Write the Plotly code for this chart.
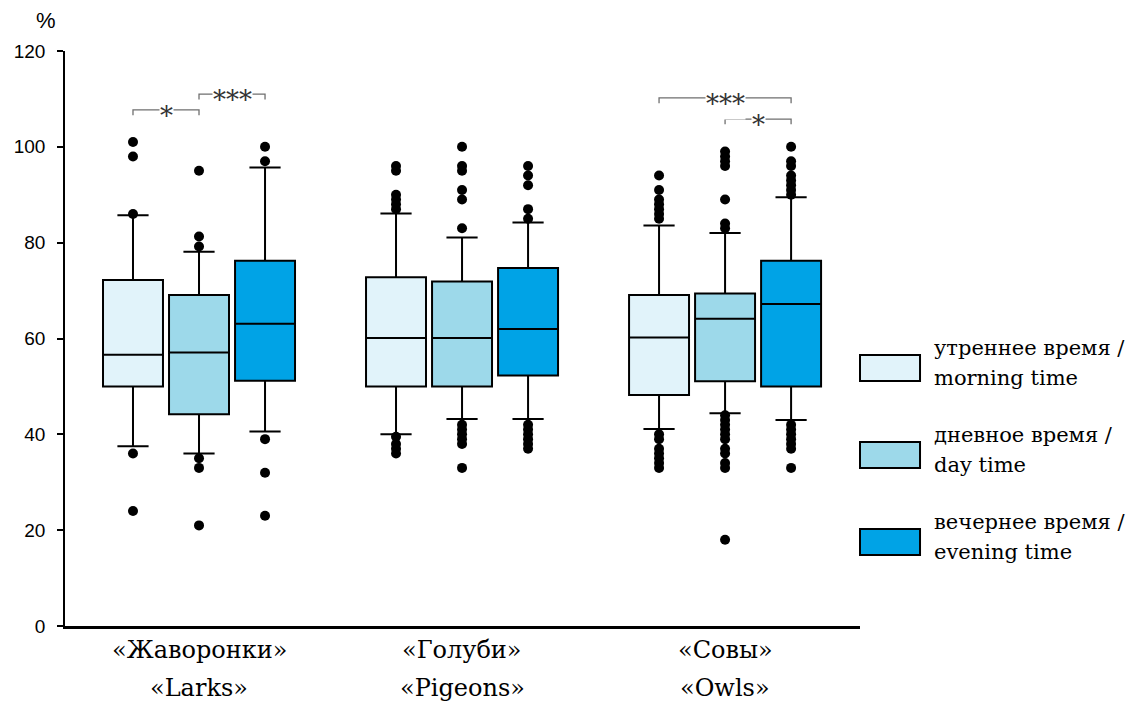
import plotly.graph_objects as go

# Chronotype groups (x-axis categories, two-line labels)
groups_ru = ["«Жаворонки»", "«Голуби»", "«Совы»"]
groups_en = ["«Larks»", "«Pigeons»", "«Owls»"]

# Time-of-day series
series_ru = ["утреннее время /", "дневное время /", "вечернее время /"]
series_en = ["morning time", "day time", "evening time"]
series_colors = ["#E1F3FA", "#9DD9EA", "#00A3E6"]

# Box statistics per series, one value per group (Larks, Pigeons, Owls)
q1 = [
    [50.0, 50.0, 48.2],
    [44.2, 50.0, 51.1],
    [51.2, 52.3, 50.0],
]
median = [
    [56.6, 60.1, 60.2],
    [57.1, 60.1, 64.1],
    [63.1, 62.0, 67.2],
]
q3 = [
    [72.2, 72.8, 69.1],
    [69.1, 71.9, 69.4],
    [76.2, 74.7, 76.2],
]
lower_fence = [
    [37.5, 40.0, 41.1],
    [36.0, 43.2, 44.4],
    [40.6, 43.2, 43.0],
]
upper_fence = [
    [85.7, 86.1, 83.6],
    [78.1, 81.1, 82.0],
    [95.7, 84.2, 89.5],
]

# Outliers per series, per group
outliers = [
    [
        [101, 98, 86, 36, 24],
        [96, 95, 90, 89, 88, 87, 39.5, 38, 37, 36],
        [94, 91, 89, 88, 87, 86, 85, 40, 39, 37, 36, 35, 34, 33],
    ],
    [
        [95, 81.3, 79.2, 35, 33, 21],
        [100, 96, 95, 91, 89, 83, 42, 41, 40, 39, 38, 33],
        [99, 98, 97, 96, 89, 84, 83, 44, 43, 42, 41, 40, 39, 37, 36, 34, 33, 18],
    ],
    [
        [100, 97, 39, 32, 23],
        [96, 94, 92, 87, 85, 42, 41, 40, 39, 38, 37],
        [100, 97, 96, 94, 93, 92, 91, 90, 42, 41, 40, 39, 38, 37, 33],
    ],
]

# Significance brackets: (group, series_a, series_b, level, label)
brackets = [
    (0, 0, 1, 107.7, "*"),
    (0, 1, 2, 111.0, "***"),
    (2, 0, 2, 110.2, "***"),
    (2, 1, 2, 105.8, "*"),
]

SERIF = "DejaVu Serif"
SANS = "Liberation Sans, Arial, sans-serif"

offsets = [-0.251, 0.0, 0.251]
box_width = 0.228
plot_h = 575  # plot area height in px, used for paper-coordinate offsets

fig = go.Figure()

for s in range(3):
    xs = [g + offsets[s] for g in range(len(groups_ru))]
    fig.add_trace(go.Box(
        x=xs,
        q1=q1[s], median=median[s], q3=q3[s],
        lowerfence=lower_fence[s], upperfence=upper_fence[s],
        width=box_width,
        whiskerwidth=0.52,
        fillcolor=series_colors[s],
        line=dict(color="black", width=2),
        boxpoints=False,
        showlegend=False,
        hoverinfo="skip",
    ))
    ox, oy = [], []
    for g in range(len(groups_ru)):
        for v in outliers[s][g]:
            ox.append(g + offsets[s])
            oy.append(v)
    fig.add_trace(go.Scatter(
        x=ox, y=oy, mode="markers",
        marker=dict(color="black", size=10),
        showlegend=False, hoverinfo="skip",
    ))

# Significance brackets with asterisks
for g, a, b, level, label in brackets:
    xa = g + offsets[a]
    xb = g + offsets[b]
    fig.add_shape(type="path",
                  path=f"M {xa},{level - 1.1} L {xa},{level} L {xb},{level} L {xb},{level - 1.1}",
                  line=dict(color="#6f6f6f", width=1.3), xref="x", yref="y")
    fig.add_annotation(x=(xa + xb) / 2, y=level, text=label, showarrow=False,
                       font=dict(family=SERIF, size=26, color="#333333"),
                       bgcolor="white", borderpad=0, yanchor="middle", yshift=-6)

# Category labels under the axis (Russian line, English line)
for g in range(len(groups_ru)):
    fig.add_annotation(x=g, xref="x", yref="paper", y=-24 / plot_h,
                       text=groups_ru[g], showarrow=False, yanchor="middle",
                       font=dict(family=SERIF, size=24, color="black"))
    fig.add_annotation(x=g, xref="x", yref="paper", y=-62 / plot_h,
                       text=groups_en[g], showarrow=False, yanchor="middle",
                       font=dict(family=SERIF, size=24, color="black"))

# Legend drawn in the right margin
legend_bottom = [0.426, 0.2748, 0.1235]
for s in range(3):
    y0 = legend_bottom[s]
    y1 = y0 + 26 / plot_h
    fig.add_shape(type="rect", xref="paper", yref="paper",
                  x0=-0.0, x1=0.0755, y0=y0, y1=y1, visible=False)
    fig.add_shape(type="rect", xref="paper", yref="paper",
                  x0=1.0, x1=1.0755, y0=y0, y1=y1,
                  fillcolor=series_colors[s], line=dict(color="black", width=2))
    mid = (y0 + y1) / 2
    fig.add_annotation(xref="paper", yref="paper", x=1.091, y=mid + 20 / plot_h,
                       text=series_ru[s], showarrow=False,
                       xanchor="left", yanchor="middle",
                       font=dict(family=SERIF, size=21, color="black"))
    fig.add_annotation(xref="paper", yref="paper", x=1.091, y=mid - 10 / plot_h,
                       text=series_en[s], showarrow=False,
                       xanchor="left", yanchor="middle",
                       font=dict(family=SERIF, size=21, color="black"))

# Unit label above the y axis
fig.add_annotation(xref="paper", yref="paper", x=-0.024, y=1 + 31 / plot_h,
                   text="%", showarrow=False, xanchor="center", yanchor="middle",
                   font=dict(family=SANS, size=22, color="black"))

fig.update_layout(
    width=1131, height=702,
    margin=dict(l=65, r=271, t=51, b=76),
    plot_bgcolor="white", paper_bgcolor="white",
    boxmode="overlay",
    xaxis=dict(
        range=[-0.5095, 2.513],
        showticklabels=False,
        ticks="", showgrid=False, zeroline=False,
        showline=True, linecolor="black", linewidth=2.5,
        automargin=False,
    ),
    yaxis=dict(
        range=[0, 120],
        tickvals=[0, 20, 40, 60, 80, 100, 120],
        ticks="outside", ticklen=6, tickwidth=1.5, tickcolor="black",
        showgrid=False, zeroline=False,
        showline=True, linecolor="black", linewidth=1.5,
        tickfont=dict(family=SANS, size=19, color="black"),
        ticklabelstandoff=8,
        automargin=False,
    ),
)

fig.write_html("out.html")
